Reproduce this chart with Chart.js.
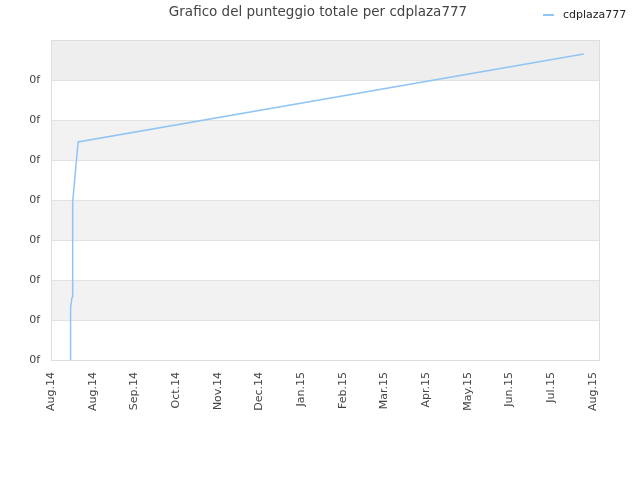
<!DOCTYPE html>
<html>
<head>
<meta charset="utf-8">
<script src="https://cdn.jsdelivr.net/npm/chart.js@4/dist/chart.umd.min.js"></script>
<style>
  html, body { margin: 0; padding: 0; background: #fff; }
</style>
</head>
<body>
<canvas id="score_chart" width="640" height="480"></canvas>
<script>
// x in months since the first tick, y in grid bands (axis labels are all "0f")
const monthLabels = ["Aug.14", "Aug.14", "Sep.14", "Oct.14", "Nov.14", "Dec.14", "Jan.15",
                     "Feb.15", "Mar.15", "Apr.15", "May.15", "Jun.15", "Jul.15", "Aug.15"];
const scoreX = [0.47, 0.47, 0.50, 0.52, 0.52, 0.65, 12.78];
const scoreY = [0, 1.3, 1.55, 1.58, 3.95, 5.45, 7.65];
const yTickLabel = "0f";
const seriesName = "cdplaza777";
const titleText = "Grafico del punteggio totale per cdplaza777";

const lineColor = "#90c4f5";
const fontFamily = "'DejaVu Sans', sans-serif";

const frame = {
    id: "frame",
    beforeDraw(chart) {
        const c = chart.ctx, a = chart.chartArea, y = chart.scales.y;
        c.save();
        for (let i = 0; i < 8; i++) {
            let fill = null;
            if (i === 7) fill = "#eeeeee";
            else if (i % 2 === 1) fill = "#f2f2f2";
            if (!fill) continue;
            const top = y.getPixelForValue(i + 1), bot = y.getPixelForValue(i);
            c.fillStyle = fill;
            c.fillRect(a.left, top, a.right - a.left, bot - top);
        }
        c.restore();
    },
    afterDraw(chart) {
        const c = chart.ctx, a = chart.chartArea;
        c.save();
        c.strokeStyle = "#dddddd";
        c.lineWidth = 1;
        c.strokeRect(a.left + 0.5, a.top + 0.5, a.right - a.left - 1, a.bottom - a.top);
        // legend
        c.strokeStyle = lineColor;
        c.lineWidth = 2;
        c.beginPath();
        c.moveTo(543, 15);
        c.lineTo(554, 15);
        c.stroke();
        c.fillStyle = "#222";
        c.font = "11px " + fontFamily;
        c.textBaseline = "middle";
        c.fillText(seriesName, 563, 15);
        c.restore();
    }
};

new Chart(document.getElementById("score_chart"), {
    type: "line",
    data: {
        datasets: [{
            label: seriesName,
            data: scoreX.map((x, i) => ({ x: x, y: scoreY[i] })),
            borderColor: lineColor,
            borderWidth: 1.5,
            pointRadius: 0,
            tension: 0,
            fill: false
        }]
    },
    options: {
        responsive: false,
        animation: false,
        layout: { padding: { left: 0, right: 4, top: 0, bottom: 0 } },
        plugins: {
            legend: { display: false },
            tooltip: { enabled: false },
            title: {
                display: true,
                text: titleText,
                color: "#444",
                font: { family: fontFamily, size: 13.5, weight: "normal" },
                padding: { top: 4, bottom: 19.8 }
            }
        },
        scales: {
            x: {
                type: "linear",
                min: 0,
                max: 13.17,
                afterBuildTicks: (s) => { s.ticks = monthLabels.map((l, i) => ({ value: i })); },
                afterFit: (s) => { s.height = 120; },
                ticks: {
                    autoSkip: false,
                    minRotation: 90,
                    maxRotation: 90,
                    color: "#444",
                    padding: 4,
                    font: { family: fontFamily, size: 11 },
                    callback: (v, i) => monthLabels[i]
                },
                grid: { display: false },
                border: { display: false }
            },
            y: {
                min: 0,
                max: 8,
                afterFit: (s) => { s.width = 51; },
                ticks: {
                    stepSize: 1,
                    color: "#444",
                    padding: 11,
                    font: { family: fontFamily, size: 11 },
                    callback: (v) => v < 8 ? yTickLabel : ""
                },
                grid: { color: "#e2e2e2", drawTicks: false },
                border: { display: false }
            },
            // empty right-hand axis, only reserves the margin right of the plot
            yRight: {
                position: "right",
                min: 0,
                max: 8,
                afterFit: (s) => { s.width = 36; },
                ticks: { display: false },
                grid: { display: false },
                border: { display: false }
            }
        }
    },
    plugins: [frame]
});
</script>
</body>
</html>
